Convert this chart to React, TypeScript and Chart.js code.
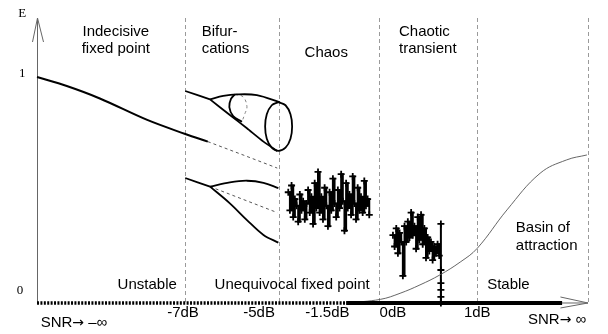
import React, { useEffect, useRef } from "react";
import { Chart, registerables } from "chart.js";

Chart.register(...registerables);

// Schematic SNR axis: 0 = "SNR → −∞" end, 100 = "SNR → ∞" end. E axis: 0..1
const X_MIN = -6.72;
const X_MAX = 103.63;
const Y_MIN = -0.1372;
const Y_MAX = 1.3407;
const AXIS_TOP_E = 1.261;

const regionBounds = [26.9, 43.9, 62.1, 79.9, 100];
const tickLabels = ["-7dB", "-5dB", "-1.5dB", "0dB", "1dB"];
const tickPos = [26.5, 40.3, 52.7, 64.6, 79.9];

const fixedPointCurve: [number, number][] = [
  [0, 1.0], [5.4, 0.96], [11.4, 0.905], [20.0, 0.81], [26.9, 0.748], [31.0, 0.714],
];
const fixedPointUnstable: [number, number][] = [
  [31.0, 0.714], [37.4, 0.655], [43.6, 0.597],
];
const upperLead: [number, number][] = [[26.9, 0.938], [31.4, 0.901]];
const tubeTop: [number, number][] = [
  [31.4, 0.901], [33.8, 0.916], [36.2, 0.923], [39.9, 0.92], [44.1, 0.888],
];
const tubeBottom: [number, number][] = [
  [31.4, 0.901], [35.0, 0.832], [38.1, 0.773], [41.1, 0.714], [43.6, 0.673],
];
const tubeEnd: [number, number][] = [
  [43.8, 0.889], [45.1, 0.875], [46.0, 0.835], [46.3, 0.781], [46.0, 0.727], [45.1, 0.687],
  [43.8, 0.673], [42.6, 0.687], [41.7, 0.727], [41.4, 0.781], [41.7, 0.835], [42.6, 0.875], [43.8, 0.889],
];
const tubeMidFront: [number, number][] = [
  [35.9, 0.923], [35.2, 0.903], [34.9, 0.867], [35.6, 0.827], [37.2, 0.802],
];
const tubeMidBack: [number, number][] = [
  [35.9, 0.923], [37.4, 0.912], [38.1, 0.869], [37.7, 0.836], [37.2, 0.802],
];
const lowerLead: [number, number][] = [[26.9, 0.553], [31.4, 0.515]];
const lowerUpperArc: [number, number][] = [
  [31.4, 0.515], [35.0, 0.534], [38.1, 0.541], [41.1, 0.532], [43.8, 0.508],
];
const lowerLowerArc: [number, number][] = [
  [31.4, 0.515], [35.0, 0.441], [38.1, 0.367], [41.1, 0.301], [43.8, 0.267],
];
const lowerMiddle: [number, number][] = [[31.4, 0.515], [43.6, 0.4]];

const chaosX = [
  45.6, 45.9, 46.2, 46.5, 46.8, 47.1, 47.4, 47.7, 48.0, 48.3,
  48.6, 48.9, 49.2, 49.5, 49.8, 50.1, 50.4, 50.7, 51.0, 51.3,
  51.6, 51.9, 52.2, 52.5, 52.8, 53.1, 53.4, 53.7, 54.0, 54.3,
  54.6, 54.9, 55.2, 55.5, 55.8, 56.1, 56.4, 56.7, 57.0, 57.3,
  57.6, 57.9, 58.2, 58.5, 58.8, 59.1, 59.4, 59.7, 60.0, 60.3,
];
const chaosE = [
  0.49, 0.41, 0.52, 0.38, 0.46, 0.43, 0.36, 0.48, 0.41, 0.45,
  0.37, 0.44, 0.50, 0.40, 0.47, 0.35, 0.53, 0.42, 0.58, 0.40,
  0.47, 0.37, 0.51, 0.43, 0.34, 0.49, 0.41, 0.55, 0.44, 0.38,
  0.50, 0.42, 0.57, 0.45, 0.32, 0.53, 0.42, 0.48, 0.39, 0.56,
  0.44, 0.37, 0.51, 0.41, 0.47, 0.40, 0.54, 0.43, 0.46, 0.39,
];

const transientX = [64.6, 64.9, 65.2, 65.5, 65.8, 66.1, 66.4, 66.7, 67.0, 67.3, 67.6, 67.9, 68.2, 68.5, 68.8, 69.1, 69.4, 69.7, 70.0, 70.3, 70.6, 70.9, 71.2, 71.5, 71.8, 72.1, 72.4, 72.7, 73.0, 73.3, 73.3, 73.3, 73.3, 73.3, 73.3];
const transientE = [0.30, 0.25, 0.33, 0.22, 0.31, 0.27, 0.12, 0.34, 0.27, 0.36, 0.29, 0.40, 0.30, 0.34, 0.24, 0.38, 0.28, 0.39, 0.26, 0.33, 0.20, 0.29, 0.23, 0.27, 0.19, 0.25, 0.22, 0.26, 0.21, 0.35, 0.146, 0.088, 0.058, 0.027, 0.0];

const basinCurve: [number, number][] = [
  [56.1, 0.0], [62.3, 0.016], [65.9, 0.043], [69.5, 0.08], [73.1, 0.124], [76.8, 0.181],
  [79.9, 0.242], [85.3, 0.412], [91.3, 0.574], [96.1, 0.633], [99.8, 0.655],
];

const unstableAxis: [number, number][] = [[0, 0], [56.1, 0]];
const stableAxis: [number, number][] = [[56.1, 0], [95.3, 0]];

const SANS = '15px "Liberation Sans", Arial, Helvetica, sans-serif';
const ARROW = '14px "DejaVu Sans", sans-serif';
const SERIF = '13px "Liberation Serif", "Times New Roman", serif';

type Seg = [string, string];
type Label = { lines: Seg[][]; x: number; y: number; align: "left" | "center"; lh?: number };
const s = (t: string): Seg[] => [[t, SANS]];
const annotations: Label[] = [
  { lines: [s("Indecisive"), s("fixed point")], x: 14.3, y: 1.199, align: "center", lh: 16.5 },
  { lines: [s("Bifur-"), s("cations")], x: 29.9, y: 1.199, align: "left", lh: 16.5 },
  { lines: [s("Chaos")], x: 52.5, y: 1.106, align: "center" },
  { lines: [s("Chaotic"), s("transient")], x: 65.7, y: 1.199, align: "left", lh: 16.5 },
  { lines: [s("Basin of"), s("attraction")], x: 86.9, y: 0.332, align: "left", lh: 18 },
  { lines: [s("Unstable")], x: 20.0, y: 0.08, align: "center" },
  { lines: [s("Unequivocal fixed point")], x: 46.3, y: 0.08, align: "center" },
  { lines: [s("Stable")], x: 81.7, y: 0.08, align: "left" },
  { lines: [[["SNR", SANS], ["\u2192", ARROW], [" \u2013\u221e", SANS]]], x: 6.7, y: -0.088, align: "center" },
  { lines: [[["SNR", SANS], ["\u2192", ARROW], [" \u221e", SANS]]], x: 94.4, y: -0.075, align: "center" },
  { lines: [[["E", SERIF]]], x: -2.7, y: 1.279, align: "center" },
  { lines: [[["1", SERIF]]], x: -2.7, y: 1.013, align: "center" },
  { lines: [[["0", SERIF]]], x: -3.1, y: 0.053, align: "center" },
];
const TICK_E = -0.044;

const pts = (a: [number, number][]) => a.map(([x, y]) => ({ x, y }));
const zip = (xs: number[], ys: number[]) => xs.map((x, i) => ({ x, y: ys[i] }));

const line = (data: any[], opts: any = {}) => ({
  data,
  showLine: true,
  borderColor: "#000",
  borderWidth: 1.8,
  pointRadius: 0,
  tension: 0.35,
  fill: false,
  ...opts,
});

const decor = {
  id: "decor",
  beforeDatasetsDraw(chart: any) {
    const { ctx, scales } = chart;
    const px = (u: number) => scales.x.getPixelForValue(u);
    const py = (e: number) => scales.y.getPixelForValue(e);
    ctx.save();
    ctx.lineWidth = 1;
    ctx.strokeStyle = "#9a9a9a";
    ctx.setLineDash([4, 3]);
    for (const b of regionBounds) {
      const X = Math.round(px(b)) + 0.5;
      ctx.beginPath();
      ctx.moveTo(X, py(AXIS_TOP_E));
      ctx.lineTo(X, py(0));
      ctx.stroke();
    }
    ctx.setLineDash([]);
    ctx.strokeStyle = "#666";
    const ax = Math.round(px(0)) + 0.5;
    const top = py(AXIS_TOP_E);
    ctx.beginPath();
    ctx.moveTo(ax, py(0));
    ctx.lineTo(ax, top);
    ctx.stroke();
    ctx.beginPath();
    ctx.moveTo(ax - 5, top + 24);
    ctx.lineTo(ax, top);
    ctx.lineTo(ax + 6, top + 24);
    ctx.stroke();
    const y0 = py(0);
    ctx.beginPath();
    ctx.moveTo(px(95.0), y0);
    ctx.lineTo(px(100), y0);
    ctx.moveTo(px(95.0), y0 - 6);
    ctx.lineTo(px(100), y0);
    ctx.lineTo(px(95.0), y0 + 5);
    ctx.stroke();
    ctx.restore();
  },
  afterDatasetsDraw(chart: any) {
    const { ctx, scales } = chart;
    const px = (u: number) => scales.x.getPixelForValue(u);
    const py = (e: number) => scales.y.getPixelForValue(e);
    ctx.save();
    ctx.fillStyle = "#000";
    ctx.textBaseline = "middle";
    ctx.textAlign = "left";
    for (const a of annotations) {
      a.lines.forEach((segs, i) => {
        let w = 0;
        for (const [t, f] of segs) { ctx.font = f; w += ctx.measureText(t).width; }
        let X = px(a.x) - (a.align === "center" ? w / 2 : 0);
        const Y = py(a.y) + i * (a.lh || 16);
        for (const [t, f] of segs) {
          ctx.font = f;
          ctx.fillText(t, X, Y);
          X += ctx.measureText(t).width;
        }
      });
    }
    ctx.font = SANS;
    ctx.textAlign = "center";
    tickLabels.forEach((t, i) => ctx.fillText(t, px(tickPos[i]), py(TICK_E)));
    ctx.restore();
  },
};

export default function App() {
  const ref = useRef<HTMLCanvasElement>(null);
  useEffect(() => {
    if (!ref.current) return;
    const thin = { borderWidth: 0.9, borderColor: "#444", borderDash: [3, 3], tension: 0 };
    const marks = {
      stepped: true, borderWidth: 2, tension: 0,
      pointStyle: "cross", pointRadius: 3.5, pointBorderWidth: 1.8, pointBorderColor: "#000",
    };
    const chart = new Chart(ref.current, {
      type: "scatter",
      data: {
        datasets: [
          line(pts(unstableAxis), { borderWidth: 3.5, borderDash: [2, 1.4], tension: 0, borderCapStyle: "butt" }),
          line(pts(stableAxis), { borderWidth: 4, tension: 0 }),
          line(pts(basinCurve), { borderWidth: 0.9, borderColor: "#555", tension: 0.4 }),
          line(pts(fixedPointCurve), { borderWidth: 2 }),
          line(pts(fixedPointUnstable), thin),
          line(pts(upperLead)),
          line(pts(tubeTop)),
          line(pts(tubeBottom), { tension: 0.2 }),
          line(pts(tubeEnd), { tension: 0.4 }),
          line(pts(tubeMidFront), { tension: 0.4 }),
          line(pts(tubeMidBack), { ...thin, tension: 0.4, borderColor: "#777" }),
          line(pts(lowerLead)),
          line(pts(lowerUpperArc)),
          line(pts(lowerLowerArc)),
          line(pts(lowerMiddle), thin),
          line(zip(chaosX, chaosE), marks),
          line(zip(transientX, transientE), marks),
        ],
      },
      options: {
        animation: false,
        responsive: false,
        events: [],
        layout: { padding: 0, autoPadding: false },
        plugins: { legend: { display: false }, tooltip: { enabled: false } },
        scales: {
          x: { type: "linear", min: X_MIN, max: X_MAX, display: false },
          y: { type: "linear", min: Y_MIN, max: Y_MAX, display: false },
        },
      },
      plugins: [decor],
    } as any);
    return () => chart.destroy();
  }, []);
  return (
    <div style={{ position: "absolute", left: 0, top: 0, width: 608, height: 334, background: "#fff" }}>
      <canvas ref={ref} width={608} height={334} style={{ width: 608, height: 334 }} />
    </div>
  );
}
